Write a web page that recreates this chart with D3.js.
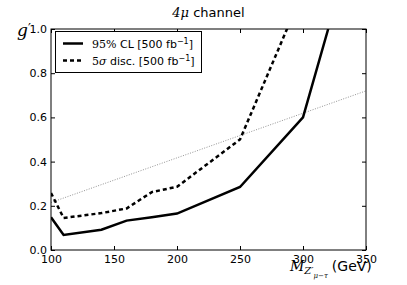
<!DOCTYPE html>
<html>
<head>
<meta charset="utf-8">
<script src="https://cdn.jsdelivr.net/npm/d3@7"></script>
<style>
  body { margin: 0; background: #fff; }
  svg { display: block; }
  text { font-family: "DejaVu Sans", sans-serif; }
  .serif { font-family: "DejaVu Serif", serif; font-style: italic; }
</style>
</head>
<body>
<svg id="chart" width="407" height="285"></svg>
<script>
// 95% CL limit, 500 fb^-1
const clMass = [100, 110, 140, 160, 180, 200, 250, 300, 320];
const clG = [0.148, 0.068, 0.092, 0.133, 0.148, 0.165, 0.285, 0.6, 1.0];

// 5 sigma discovery, 500 fb^-1
const discMass = [100, 110, 140, 160, 180, 200, 250, 300];
const discG = [0.258, 0.145, 0.167, 0.188, 0.262, 0.286, 0.5, 1.17];

// thin reference line
const refMass = [100, 350];
const refG = [0.215, 0.72];

const xTicks = [100, 150, 200, 250, 300, 350];
const yTicks = [0.0, 0.2, 0.4, 0.6, 0.8, 1.0];

const svg = d3.select("#chart");
const margin = {top: 29, right: 41, bottom: 35, left: 51};
const width = 407 - margin.left - margin.right;
const height = 285 - margin.top - margin.bottom;

const x = d3.scaleLinear().domain([100, 350]).range([margin.left, margin.left + width]);
const y = d3.scaleLinear().domain([0, 1]).range([margin.top + height, margin.top]);

svg.append("clipPath").attr("id", "clip")
  .append("rect")
  .attr("x", margin.left).attr("y", margin.top)
  .attr("width", width).attr("height", height);

const line = d3.line().x(d => x(d[0])).y(d => y(d[1]));
const plot = svg.append("g").attr("clip-path", "url(#clip)");

plot.append("path")
  .datum(d3.zip(refMass, refG))
  .attr("d", line)
  .attr("fill", "none")
  .attr("stroke", "#777")
  .attr("stroke-width", 0.8)
  .attr("stroke-dasharray", "1,1.5");

plot.append("path")
  .datum(d3.zip(discMass, discG))
  .attr("d", line)
  .attr("fill", "none")
  .attr("stroke", "#000")
  .attr("stroke-width", 2.5)
  .attr("stroke-dasharray", "4,3");

plot.append("path")
  .datum(d3.zip(clMass, clG))
  .attr("d", line)
  .attr("fill", "none")
  .attr("stroke", "#000")
  .attr("stroke-width", 2.5);

// axes, ticks inside on all four sides
const tickStyle = g => {
  g.select(".domain").remove();
  g.selectAll("line").attr("stroke", "#000");
  g.selectAll("text").attr("font-size", 11).attr("fill", "#000");
};

svg.append("g")
  .attr("transform", `translate(0,${margin.top + height})`)
  .call(d3.axisBottom(x).tickValues(xTicks).tickSizeInner(-4).tickSizeOuter(0).tickPadding(5))
  .call(tickStyle);

svg.append("g")
  .attr("transform", `translate(0,${margin.top})`)
  .call(d3.axisTop(x).tickValues(xTicks).tickSizeInner(-4).tickSizeOuter(0).tickFormat(""))
  .call(tickStyle);

svg.append("g")
  .attr("transform", `translate(${margin.left},0)`)
  .call(d3.axisLeft(y).tickValues(yTicks).tickSizeInner(-4).tickSizeOuter(0).tickPadding(4).tickFormat(d3.format(".1f")))
  .call(tickStyle);

svg.append("g")
  .attr("transform", `translate(${margin.left + width},0)`)
  .call(d3.axisRight(y).tickValues(yTicks).tickSizeInner(-4).tickSizeOuter(0).tickFormat(""))
  .call(tickStyle);

svg.append("rect")
  .attr("x", margin.left).attr("y", margin.top)
  .attr("width", width).attr("height", height)
  .attr("fill", "none").attr("stroke", "#000").attr("stroke-width", 1);

// title
const title = svg.append("text")
  .attr("x", margin.left + width / 2).attr("y", 17)
  .attr("text-anchor", "middle").attr("font-size", 13);
title.append("tspan").attr("class", "serif").text("4μ");
title.append("tspan").text(" channel");

// y label
const yl = svg.append("text").attr("class", "serif")
  .attr("x", 17).attr("y", 36).attr("font-size", 17);
yl.append("tspan").text("g");
yl.append("tspan").attr("x", 28).attr("y", 33).attr("font-size", 13)
  .attr("font-style", "normal").text("′");

// x label
const xl = svg.append("text").attr("x", 290).attr("y", 271).attr("font-size", 14);
xl.append("tspan").attr("class", "serif").text("M");
xl.append("tspan").attr("class", "serif").attr("font-size", 10).attr("dy", 3).text("Z′");
xl.append("tspan").attr("class", "serif").attr("font-size", 7).attr("dy", 4).text("μ−τ");
xl.append("tspan").attr("dy", -7).attr("dx", 4).text("(GeV)");

// legend
const legend = svg.append("g");
legend.append("rect")
  .attr("x", 55.5).attr("y", 31.5).attr("width", 146).attr("height", 41)
  .attr("fill", "#fff").attr("stroke", "#000").attr("stroke-width", 1);

const entries = [
  {label: "95% CL", dash: null},
  {label: "5σ disc.", dash: "4,3"}
];
entries.forEach((e, i) => {
  const yy = 43.5 + i * 17;
  legend.append("line")
    .attr("x1", 63).attr("x2", 83).attr("y1", yy).attr("y2", yy)
    .attr("stroke", "#000").attr("stroke-width", 2.5)
    .attr("stroke-dasharray", e.dash);
  const t = legend.append("text").attr("x", 92).attr("y", yy + 4).attr("font-size", 11);
  if (i === 0) {
    t.append("tspan").attr("font-family", "DejaVu Serif, serif").text("95%");
    t.append("tspan").text(" CL [500 fb");
  } else {
    t.append("tspan").attr("font-family", "DejaVu Serif, serif").text("5");
    t.append("tspan").attr("class", "serif").text("σ");
    t.append("tspan").text(" disc. [500 fb");
  }
  t.append("tspan").attr("font-size", 8).attr("dy", -4).text("−1");
  t.append("tspan").attr("dy", 4).text("]");
});
</script>
</body>
</html>
